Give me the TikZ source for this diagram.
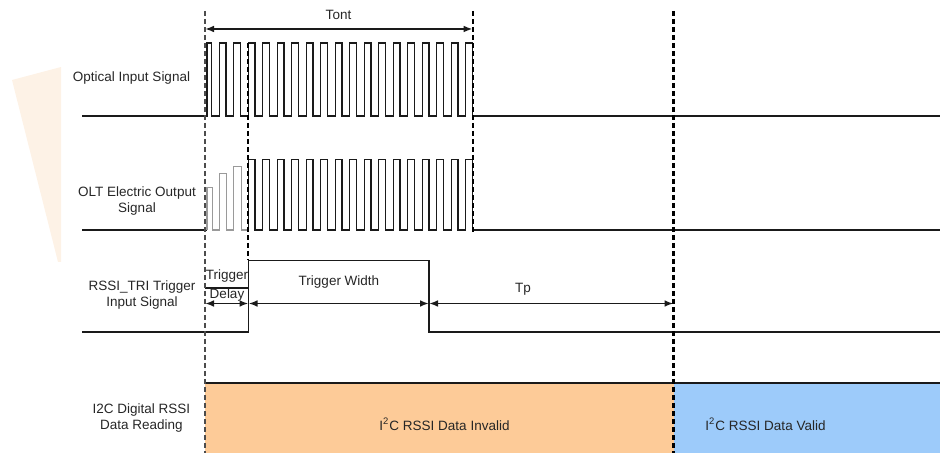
\documentclass[tikz,border=0pt]{standalone}
\usepackage{fontspec}
\setmainfont{Liberation Sans}
\usetikzlibrary{arrows.meta}
\definecolor{sigline}{HTML}{1A1A1A}
\definecolor{rampgray}{HTML}{9A9A9A}
\definecolor{invalidfill}{HTML}{FDCB98}
\definecolor{validfill}{HTML}{9DCBFA}
\definecolor{wedge}{HTML}{FDF2E6}
\definecolor{txt}{HTML}{262626}
\tikzset{
  sig/.style={draw=sigline, line width=0.6pt},
  ramp/.style={draw=rampgray, line width=0.6pt},
  marker/.style={draw=black, line width=0.9pt, dash pattern=on 2.6pt off 1.4pt},
  lbl/.style={font=\fontsize{6.75}{8}\selectfont, text=txt, align=center, inner sep=0pt},
  dimarrow/.style={{Latex[length=4.5pt,width=3.4pt]}-{Latex[length=4.5pt,width=3.4pt]}, line width=0.95pt, draw=sigline}
}

\begin{document}
\begin{tikzpicture}[x=0.5pt, y=-0.5pt]
  \useasboundingbox (0,0) rectangle (940,453);
  \fill[wedge] (12,80) -- (61,67) -- (61,262) -- (58,262) -- cycle;
  % data reading boxes
  \fill[invalidfill] (205,383) rectangle (673.5,453);
  \fill[validfill] (673.5,383) rectangle (940,453);
  \draw[sig] (205,383) -- (940,383);
  % optical input
  \draw[sig] (82,116) -- (207,116) -- (207,43) -- (211.4,43) -- (211.4,116)
    \foreach \k in {1,...,18}{ -- ({204.7+14.5*\k},116) -- ({204.7+14.5*\k},43) -- ({211.4+14.5*\k},43) -- ({211.4+14.5*\k},116)} -- (940,116);
  % OLT electric output
  \draw[sig] (82,230) -- (207,230);
  \draw[ramp] (207,230) \foreach \k/\h in {0/187.7,1/173.7,2/166.7}{ -- ({max(207,204.7+14.5*\k)},230) -- ({max(207,204.7+14.5*\k)},\h) -- ({212.1+14.5*\k},\h) -- ({212.1+14.5*\k},230)} -- (248.2,230);
  \draw[sig] (248.2,230)
    \foreach \k in {3,...,18}{ -- ({204.7+14.5*\k},230) -- ({204.7+14.5*\k},159.5) -- ({211.4+14.5*\k},159.5) -- ({211.4+14.5*\k},230)} -- (940,230);
  % trigger input
  \draw[sig] (82,332) -- (248.5,332) -- (248.5,260.5) -- (429,260.5) -- (429,332) -- (940,332);
  \draw[sig] (205,288) -- (248.5,288);
  % time markers
  \draw[marker, draw=black!70] (205,11) -- (205,453);
  \draw[marker] (248.2,43) -- (248.2,260);
  \draw[marker] (472.6,11) -- (472.6,232);
  \draw[marker, line width=1.1pt] (673.5,11) -- (673.5,453);
  % dimension ends
  \coordinate (tontL) at (205,29);
  \coordinate (tontR) at (472.6,29);
  \coordinate (dlyL) at (205,303.5);
  \coordinate (dlyR) at (248.5,303.5);
  \coordinate (widR) at (429,303.5);
  \coordinate (tpR) at (673.5,303.5);
  \draw[dimarrow] (tontL) -- (tontR);
  \draw[dimarrow] (dlyL) -- (dlyR);
  \draw[dimarrow] (dlyR) -- (widR);
  \draw[dimarrow] (widR) -- (tpR);
  % labels
  \node[lbl] (tont) at (338.5,15) {Tont};
  \node[lbl] (trig) at (227,276) {Trigger};
  \node[lbl] (delay) at (227,295) {Delay};
  \node[lbl] (trigwidth) at (339,282) {Trigger Width};
  \node[lbl] (tp) at (523,289) {Tp};
  \node[lbl] (lblopt) at (131.5,78) {Optical Input Signal};
  \node[lbl] (lblolt) at (137,201) {OLT Electric Output\\Signal};
  \node[lbl] (lbltri) at (142,295.5) {RSSI\_TRI Trigger\\Input Signal};
  \node[lbl] (lbli2c) at (141.5,418) {I2C Digital RSSI\\Data Reading};
  \node[lbl] (invalid) at (444.5,424) {I\textsuperscript{2}C RSSI Data Invalid};
  \node[lbl] (valid) at (765.5,424) {I\textsuperscript{2}C RSSI Data Valid};
\end{tikzpicture}
\end{document}
